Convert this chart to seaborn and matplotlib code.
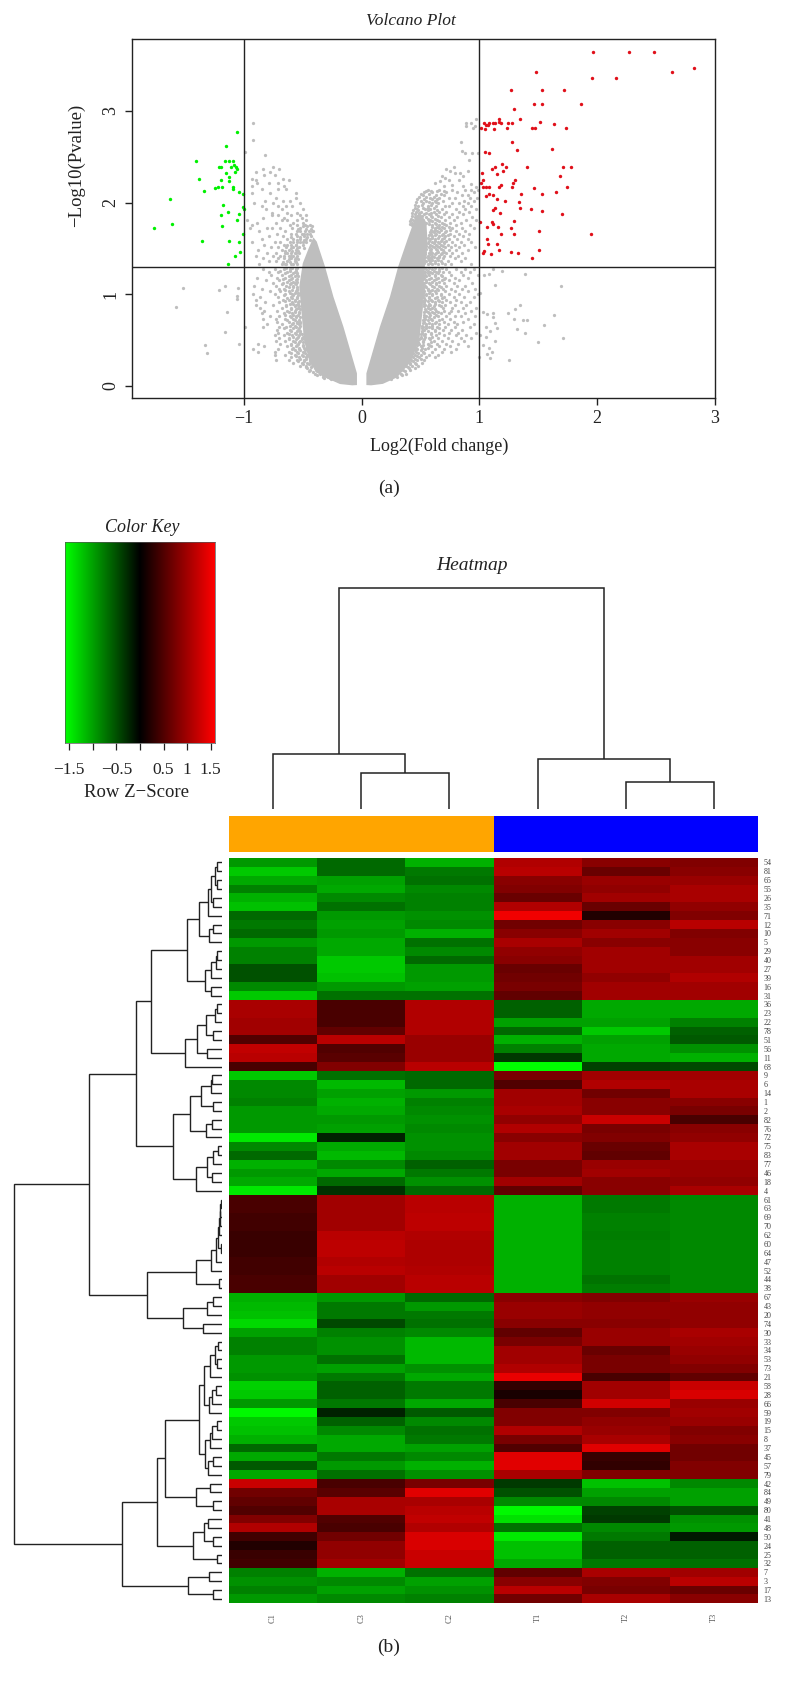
import numpy as np
import pandas as pd
import matplotlib
matplotlib.use("Agg")
import matplotlib.pyplot as plt
from matplotlib.colors import LinearSegmentedColormap, ListedColormap
import seaborn as sns

sns.set_theme(style="white")
plt.rcParams['font.family'] = ['Liberation Serif', 'DejaVu Serif']

W, H = 786, 1691

# ---------- volcano data ----------
green_pts = [(-1.06,2.774),(-1.15,2.62),(-1.41,2.454),(-1.158,2.45),(-1.124,2.45),(-1.096,2.457),(-1.215,2.388),(-1.192,2.388),
(-1.113,2.388),(-1.088,2.41),(-1.07,2.388),(-1.062,2.363),(-1.153,2.326),(-1.073,2.33),(-1.13,2.279),(-1.379,2.257),(-1.192,2.25),
(-1.124,2.232),(-1.243,2.162),(-1.223,2.17),(-1.189,2.17),(-1.096,2.151),(-1.09,2.166),(-1.336,2.126),(-1.042,2.111),(-1.011,2.097),
(-1.63,2.039),(-1.181,1.977),(-1.006,1.948),(-1.0,1.929),(-1.136,1.893),(-1.192,1.864),(-1.045,1.871),(-1.607,1.766),(-1.059,1.809),
(-1.186,1.74),(-1.766,1.718),(-1.011,1.66),(-1.353,1.584),(-1.13,1.58),(-1.042,1.569),(-1.037,1.46),(-1.073,1.416),(-1.138,1.329)]

red_pts = [(1.966,3.644),(2.272,3.644),(2.484,3.644),(1.482,3.426),(2.632,3.426),(2.822,3.473),(1.958,3.356),(2.161,3.356),(1.272,3.229),
(1.535,3.229),(1.722,3.229),(1.462,3.08),(1.535,3.08),(1.861,3.08),(1.292,3.018),(1.346,2.912),(1.17,2.912),(1.513,2.876),(1.037,2.865),
(1.085,2.872),(1.113,2.872),(1.13,2.872),(1.164,2.876),(1.184,2.872),(1.241,2.872),(1.28,2.872),(1.637,2.858),(1.057,2.85),(1.071,2.847),
(1.011,2.81),(1.045,2.807),(1.122,2.799),(1.232,2.81),(1.445,2.81),(1.47,2.81),(1.737,2.818),(1.28,2.665),(1.32,2.577),(1.612,2.585),
(1.045,2.556),(1.079,2.537),(1.193,2.424),(1.136,2.388),(1.224,2.388),(1.402,2.388),(1.708,2.388),(1.776,2.388),(1.105,2.363),(1.198,2.341),
(1.02,2.326),(1.15,2.312),(1.688,2.29),(1.028,2.25),(1.303,2.25),(1.014,2.21),(1.283,2.21),(1.181,2.191),(1.167,2.173),(1.028,2.173),
(1.057,2.173),(1.082,2.173),(1.278,2.173),(1.742,2.173),(1.459,2.155),(1.654,2.111),(1.357,2.097),(1.535,2.097),(1.082,2.097),(1.057,2.068),
(1.119,2.079),(1.15,2.042),(1.218,2.017),(1.334,2.002),(1.13,1.944),(1.346,1.937),(1.439,1.929),(1.116,1.915),(1.535,1.904),(1.178,1.882),
(1.7,1.875),(1.292,1.798),(1.006,1.787),(1.11,1.787),(1.113,1.769),(1.068,1.729),(1.159,1.729),(1.269,1.722),(1.507,1.693),(1.187,1.653),
(1.292,1.653),(1.943,1.653),(1.068,1.602),(1.074,1.547),(1.147,1.543),(1.17,1.478),(1.507,1.482),(1.04,1.467),(1.034,1.452),(1.269,1.46),
(1.326,1.449),(1.102,1.434),(1.448,1.398)]

gray_isolated = [(-1.52,1.07),(-1.58,0.86),(-1.21,1.05),(-1.16,1.09),(-1.05,1.07),(-1.06,0.98),(-1.06,0.95),(-1.14,0.81),(-1.16,0.59),
(-1.33,0.44),(-1.31,0.36),(-1.04,0.45),(-0.99,0.64),(-0.92,2.87),(-0.92,2.68),(-0.99,2.55),(-0.82,2.52),
(1.119,1.27),(1.19,1.256),(1.388,1.22),(1.085,1.22),(1.042,1.209),(1.133,1.099),(1.691,1.088),(1.006,1.008),(1.346,.881),(1.303,.834),
(1.244,.79),(1.637,.772),(1.028,.808),(1.068,.783),(1.113,.79),(1.113,.754),(1.295,.728),(1.374,.717),(1.408,.717),(1.133,.688),(1.552,.666),
(1.057,.644),(1.147,.626),(1.091,.597),(1.323,.615),(1.388,.572),(1.006,.553),(1.057,.535),(1.708,.517),(1.501,.473),(1.133,.491),(1.085,.408),
(1.034,.444),(1.105,.364),(1.068,.342),(1.252,.28),(1.091,.306),(.992,.317),
(0.888,2.87),(0.93,2.87),(0.975,2.91),(0.888,2.83),(0.945,2.81),(0.965,2.84),(0.84,2.66),(0.85,2.56),(0.88,2.54),(0.94,2.54),(0.985,2.54),
(0.91,2.46),(0.78,2.39),(0.72,2.37),(0.835,2.32),(0.905,2.34),(0.75,2.34),(0.795,2.32),(0.86,2.29),(0.68,2.29),(0.71,2.27),(0.62,2.21),
(0.665,2.23),(0.745,2.25),(0.83,2.25),(0.93,2.2),(0.97,2.17),(0.77,2.19),(0.70,2.18),(0.86,2.18)]

gray_right_levels = {
2.14:[.56,.66,.77,.88,.93,.99],2.11:[.53,.60,.72,.81,.95],2.08:[.52,.63,.70,.85,.90],2.05:[.58,.66,.74,.79,.92,.98],
2.02:[.50,.55,.62,.69,.87,.95],1.99:[.52,.60,.65,.77,.83,.90],1.96:[.48,.56,.63,.71,.74,.86,.93],1.93:[.47,.54,.58,.68,.80,.88,.97],
1.90:[.46,.50,.61,.66,.72,.83,.91],1.87:[.45,.53,.57,.63,.70,.77,.86],1.84:[.45,.49,.55,.60,.67,.74,.81,.94],
1.81:[.44,.48,.52,.58,.64,.71,.78,.89,.97],1.78:[.43,.47,.55,.62,.68,.75,.84],1.75:[.43,.50,.53,.60,.66,.72,.80,.92],
1.72:[.62,.66,.70,.77,.85,.95],1.69:[.60,.64,.72,.80,.88],1.66:[.59,.63,.69,.75,.83,.91],1.63:[.60,.66,.71,.78,.86],
1.60:[.58,.62,.68,.74,.81,.90],1.57:[.60,.65,.70,.77,.84,.93],1.54:[.58,.63,.67,.73,.79,.87],1.51:[.57,.61,.66,.71,.76,.83,.96],
1.48:[.58,.64,.69,.74,.80,.90],1.45:[.57,.60,.63,.68,.72,.77,.85],1.42:[.56,.60,.66,.70,.75,.82],1.39:[.56,.59,.64,.69,.79,.88],
1.36:[.55,.58,.62,.67,.73,.84],1.33:[.56,.60,.65,.71,.76,.93],1.27:[.55,.60,.66,.72,.80,.88,.95],1.24:[.54,.58,.63,.69,.74,.84,.92],
1.21:[.54,.57,.62,.67,.76,.86,.99],1.18:[.53,.59,.65,.71,.79,.90],1.15:[.55,.61,.68,.74,.83],1.12:[.53,.57,.63,.70,.78,.94],
1.09:[.54,.60,.66,.72,.81,.88],1.06:[.52,.56,.64,.69,.76,.85,.96],1.03:[.53,.58,.62,.71,.79,.90],1.00:[.55,.60,.67,.74,.83,.99],
.97:[.52,.57,.64,.70,.78,.87,.95],.94:[.54,.59,.65,.72,.80],.91:[.53,.62,.68,.75,.84,.92],.88:[.54,.58,.66,.71,.79,.89],
.85:[.56,.60,.69,.77,.86,.97],.82:[.55,.63,.70,.76,.82,.93],.79:[.57,.61,.67,.74,.88],.76:[.55,.65,.72,.79,.84,.96],
.73:[.54,.59,.68,.75,.90],.70:[.53,.63,.70,.78,.86],.67:[.55,.60,.66,.73,.81,.95],.64:[.52,.57,.64,.71,.79,.92],
.61:[.53,.62,.69,.76,.85],.58:[.51,.59,.66,.74,.82,.97],.55:[.53,.63,.70,.80,.89],.52:[.50,.57,.65,.73,.84,.93],
.49:[.52,.61,.68,.77,.87],.46:[.49,.56,.64,.72,.82],.43:[.50,.59,.66,.75,.90],.40:[.47,.54,.62,.70,.80],.37:[.46,.52,.60,.68,.76],
.34:[.45,.50,.57,.65],.31:[.44,.49,.55,.62],.28:[.42,.47,.53],.25:[.41,.45,.51],.22:[.38,.43,.48],.19:[.34,.40,.45],.16:[.31,.37],
.13:[.27,.33,.38],.10:[.24,.30],.07:[.2,.25]}

gray_right_extra = {
2.125:[.55,.59,.64,.70],2.095:[.50,.57,.67],2.065:[.49,.55,.61],2.035:[.47,.53,.60,.64],2.005:[.46,.57,.63],1.975:[.45,.51,.59],
1.945:[.45,.52,.56,.61],1.915:[.44,.48,.56,.64],1.885:[.43,.49,.55,.59],1.855:[.43,.47,.51,.59,.65],1.825:[.42,.46,.50,.56,.62],
1.795:[.41,.45,.52,.57,.60,.66],1.765:[.41,.57,.63,.70],1.735:[.60,.64,.68,.74],1.705:[.59,.62,.67,.75],1.675:[.58,.61,.66,.71],
1.645:[.57,.62,.68,.73],1.615:[.56,.60,.65,.70],1.585:[.57,.62,.67,.72],1.555:[.56,.61,.66,.70],1.525:[.55,.60,.64,.69],
1.495:[.55,.59,.63,.67],1.465:[.54,.59,.65,.70],1.435:[.54,.58,.62,.67],1.405:[.54,.57,.61,.66],1.375:[.53,.57,.60,.65],
1.345:[.53,.58,.62,.68],1.285:[.53,.57,.62,.68],1.255:[.52,.56,.61,.66],1.225:[.52,.56,.60,.65],1.195:[.52,.55,.62,.68],
1.165:[.52,.57,.63,.70],1.135:[.51,.55,.60,.66],1.105:[.52,.58,.63],1.075:[.52,.55,.61,.67],1.045:[.51,.56,.60,.65],
1.015:[.52,.57,.63],.985:[.52,.55,.60,.67],.955:[.53,.57,.62,.68],.925:[.52,.56,.60,.66],.895:[.53,.57,.62],
.865:[.53,.56,.61,.67],.835:[.54,.58,.62],.805:[.53,.56,.60,.65],.775:[.53,.58,.63],.745:[.53,.57,.61],.715:[.52,.56,.60,.66],
.685:[.52,.57,.62],.655:[.51,.55,.60],.625:[.51,.55,.60,.66],.595:[.51,.56,.62],.565:[.50,.54,.59],.535:[.50,.54,.60],
.505:[.49,.53,.58],.475:[.48,.52,.59],.445:[.47,.52,.57],.415:[.46,.51,.56],.385:[.45,.50],.355:[.44,.48,.53],.325:[.43,.47],
.295:[.41,.45,.50],.265:[.39,.44],.235:[.36,.41,.46],.205:[.33,.39],.175:[.30,.35,.41],.145:[.27,.32],.115:[.23,.28,.34]}

gray_left_levels = {
2.39:[-.75],2.37:[-.84,-.70],2.33:[-.90,-.78],2.30:[-.74,-.83],2.26:[-.93,-.67],2.25:[-.90,-.62],2.21:[-.89,-.79,-.71],2.18:[-.66,-.93],
2.15:[-.64,-.71,-.85],2.10:[-.56,-.93,-.78],2.05:[-.56,-.73],2.02:[-.67,-.61,-.82],2.0:[-.52,-.75,-.91],1.96:[-.85,-.64,-.59,-.71],
1.93:[-.81,-.50,-.68],1.89:[-.55,-.63,-.76],1.86:[-.76,-.71,-.52,-.60,-.47],1.83:[-.51,-.84,-.66],1.81:[-.68,-.63,-.55,-.47,-.97],
1.78:[-.89,-.73,-.58,-.50],1.75:[-.93,-.55,-.61,-.48,-.44],1.72:[-.80,-.76,-.69,-.59,-.95,-.52],1.69:[-.65,-.55,-.48,-.42,-.87],
1.66:[-.72,-.60,-.51,-.46],1.63:[-.79,-.67,-.55,-.49,-.43],1.60:[-.85,-.63,-.58,-.52,-.47],1.57:[-.74,-.69,-.61,-.55,-.50,-.93],
1.54:[-.83,-.66,-.60,-.56],1.51:[-.77,-.71,-.64,-.58,-.53],1.48:[-.88,-.68,-.62,-.56],1.45:[-.80,-.73,-.65,-.60,-.56],
1.42:[-.90,-.75,-.69,-.62,-.58],1.39:[-.84,-.71,-.66,-.60,-.56],1.36:[-.79,-.73,-.63,-.57],1.33:[-.87,-.68,-.64,-.60],
1.27:[-.84,-.74,-.66,-.61,-.56],1.24:[-.79,-.71,-.63,-.57],1.21:[-.77,-.68,-.60,-.55],1.18:[-.89,-.72,-.65,-.59],1.15:[-.81,-.70,-.62,-.56],
1.12:[-.75,-.67,-.60,-.57],1.09:[-.91,-.73,-.64,-.58],1.06:[-.85,-.70,-.66,-.55],1.03:[-.78,-.69,-.62,-.56],1.00:[-.92,-.74,-.65,-.59],
.97:[-.86,-.71,-.60,-.55],.94:[-.90,-.67,-.62,-.57],.91:[-.82,-.70,-.59,-.54],.88:[-.90,-.75,-.64,-.56],.85:[-.86,-.68,-.60,-.54],
.82:[-.83,-.72,-.63,-.57],.79:[-.85,-.66,-.59,-.53],.76:[-.78,-.70,-.61,-.56],.73:[-.84,-.73,-.65,-.58],.70:[-.72,-.62,-.55,-.52],
.67:[-.80,-.68,-.59,-.53],.64:[-.84,-.70,-.64,-.56],.61:[-.72,-.61,-.54],.58:[-.71,-.63,-.57,-.52],.55:[-.74,-.66,-.59,-.53],
.52:[-.70,-.62,-.55,-.51],.49:[-.73,-.65,-.58,-.52],.46:[-.88,-.69,-.60,-.54],.43:[-.83,-.63,-.56,-.50],.40:[-.92,-.71,-.59,-.53,-.48],
.37:[-.88,-.74,-.62,-.55,-.50],.34:[-.74,-.65,-.57,-.51,-.46],.31:[-.60,-.53,-.47],.28:[-.73,-.62,-.55,-.49,-.44],.25:[-.58,-.51,-.46],
.22:[-.52,-.47,-.42],.19:[-.46,-.40],.16:[-.45,-.38,-.36],.13:[-.40,-.35],.10:[-.33,-.29],.07:[-.26,-.22]}

gray_left_extra = {
1.745:[-.46,-.50,-.42],1.715:[-.54,-.47,-.43],1.685:[-.52,-.45,-.41],1.655:[-.56,-.49,-.44],1.625:[-.60,-.52,-.46],1.595:[-.55,-.49,-.44],
1.565:[-.58,-.52,-.47],1.535:[-.63,-.56,-.50],1.505:[-.60,-.55,-.49],1.475:[-.65,-.59,-.54],1.445:[-.63,-.57,-.53],1.415:[-.66,-.60,-.55],
1.385:[-.62,-.57,-.54],1.355:[-.67,-.61,-.56],1.325:[-.65,-.58,-.55],1.285:[-.64,-.59,-.55],1.255:[-.69,-.61,-.56],1.225:[-.65,-.58,-.55],
1.195:[-.62,-.57,-.54],1.165:[-.67,-.60,-.55],1.135:[-.63,-.58,-.55],1.105:[-.68,-.61,-.56],1.075:[-.62,-.58,-.55],1.045:[-.65,-.59,-.55],
1.015:[-.61,-.57,-.54],.985:[-.66,-.58,-.54],.955:[-.63,-.59,-.55],.925:[-.65,-.57,-.53],.895:[-.61,-.58,-.54],.865:[-.64,-.57,-.53],
.835:[-.60,-.56,-.52],.805:[-.62,-.57,-.53],.775:[-.65,-.58,-.54],.745:[-.60,-.56,-.52],.715:[-.63,-.57,-.53],.685:[-.58,-.55,-.52],
.655:[-.61,-.57,-.52],.625:[-.66,-.58,-.53],.595:[-.60,-.55,-.52],.565:[-.62,-.56,-.51],.535:[-.58,-.54,-.50],.505:[-.62,-.56,-.51],
.475:[-.57,-.53,-.50],.445:[-.60,-.55,-.50],.415:[-.58,-.53,-.49],.385:[-.57,-.52,-.48],.355:[-.60,-.54,-.48],.325:[-.56,-.50,-.46],
.295:[-.52,-.47,-.43],.265:[-.54,-.49,-.44],.235:[-.50,-.45,-.41],.205:[-.47,-.43,-.38],.175:[-.44,-.39,-.35],.145:[-.41,-.36,-.32],
.115:[-.38,-.33,-.28],.085:[-.32,-.27,-.23]}

left_core_x = [-.04,-.04,-.155,-.24,-.311,-.381,-.41,-.45,-.50,-.53,-.51,-.49,-.44,-.325,-.184,-.08]
left_core_y = [.007,.135,.644,.972,1.30,1.573,1.62,1.50,1.336,1.081,.79,.499,.244,.098,.018,.004]
right_core_x = [.04,.04,.155,.24,.31,.39,.44,.49,.55,.56,.54,.52,.52,.49,.41,.30,.18,.08]
right_core_y = [.007,.135,.644,.97,1.30,1.60,1.78,1.90,1.78,1.55,1.35,1.10,.85,.50,.25,.09,.02,.004]

volcano_xticks = [-1, 0, 1, 2, 3]
volcano_xticklabels = ['\u22121', '0', '1', '2', '3']
volcano_yticks = [0, 1, 2, 3]
fc_cut = 1.0
p_cut = 1.301

# ---------- heatmap data ----------
row_labels = [54,81,65,55,26,35,71,12,10,5,29,40,27,39,16,31,36,23,22,78,51,56,11,68,9,6,14,1,2,82,76,72,75,83,77,46,18,4,
61,63,69,70,62,60,64,47,52,44,38,67,43,20,74,30,33,34,53,73,21,58,28,66,59,19,15,8,37,45,57,79,42,84,49,80,41,48,50,24,25,32,7,3,17,13]
col_labels = ['C1', 'C3', 'C2', 'T1', 'T2', 'T3']
col_groups = [0, 0, 0, 1, 1, 1]
z_rows = [
[-.95,-.65,-1.1,1.1,.85,.8],[-1.25,-.65,-.75,1.15,.65,.85],[-1.05,-1.0,-.7,.85,.95,.95],[-.8,-1.05,-.85,.8,.9,1.05],
[-1.1,-.85,-.8,.65,1.0,1.05],[-1.2,-.7,-.8,1.1,.65,.9],[-.65,-.95,-.9,1.5,.2,.8],[-.75,-1.0,-.85,.7,.85,1.15],
[-.65,-.95,-1.1,.85,1.0,.8],[-.95,-1.05,-.7,1.05,.85,.85],[-.8,-1.05,-.85,.9,1.0,.85],[-.8,-1.25,-.65,.85,1.0,1.0],
[-.5,-1.25,-.95,.65,1.0,1.0],[-.5,-1.2,-.95,.7,.9,1.1],[-.85,-.95,-1.0,.75,1.0,1.0],[-1.25,-.7,-.7,.6,1.0,1.0],
[1.05,.45,1.1,-.6,-1.05,-1.05],[1.05,.45,1.1,-.6,-1.05,-1.05],[1.0,.45,1.1,-1.0,-1.0,-.8],[1.0,.6,1.1,-.65,-1.25,-.6],
[.5,1.15,.95,-1.1,-1.0,-.55],[1.2,.5,.95,-.8,-1.05,-.9],[1.15,.55,.95,-.35,-1.05,-1.1],[.45,.8,1.15,-1.59,-.4,-.45],
[-1.25,-.7,-.65,.75,1.0,1.0],[-.85,-1.15,-.65,.5,1.1,1.05],[-.85,-1.0,-.95,1.0,.7,1.05],[-.8,-1.1,-.8,1.0,.85,.85],
[-.95,-1.05,-.85,1.05,.85,.75],[-.95,-.95,-.9,.9,1.25,.45],[-.95,-1.0,-.85,1.1,.75,.85],[-1.45,-.2,-.9,.85,.8,.9],
[-.85,-1.05,-.9,1.0,.65,1.05],[-.65,-1.15,-.85,1.0,.6,1.05],[-1.1,-.85,-.6,.75,.95,.95],[-.95,-1.05,-.75,.75,1.0,.95],
[-1.05,-.65,-.9,1.0,.85,.9],[-1.45,-.3,-.65,.6,.85,1.05],
[.45,1.0,1.15,-1.1,-.75,-.85],[.45,1.0,1.15,-1.1,-.75,-.85],[.4,1.0,1.18,-1.1,-.8,-.85],[.4,1.0,1.18,-1.1,-.8,-.85],
[.35,1.15,1.1,-1.1,-.78,-.85],[.35,1.18,1.08,-1.1,-.8,-.85],[.35,1.18,1.08,-1.1,-.8,-.85],[.4,1.1,1.08,-1.1,-.8,-.85],
[.4,1.15,1.1,-1.1,-.8,-.85],[.45,1.0,1.15,-1.1,-.72,-.85],[.45,1.0,1.15,-1.1,-.78,-.85],
[-1.1,-.95,-.65,.85,.8,.95],[-1.15,-.75,-.95,.95,.9,.9],[-1.2,-.75,-.75,.95,.9,.9],[-1.35,-.45,-.7,.85,.85,.9],
[-1.0,-.8,-.85,.6,.95,1.05],[-.8,-.9,-1.15,.75,.95,1.0],[-.8,-.9,-1.15,1.0,.65,.95],[-.95,-.7,-1.15,1.0,.75,.9],
[-.95,-1.0,-.9,1.1,.75,.8],[-.9,-.75,-1.05,1.45,.45,.6],[-1.3,-.6,-.75,.3,1.0,1.25],[-1.25,-.6,-.75,.15,1.0,1.35],
[-.95,-.75,-1.05,.45,1.3,.95],[-1.55,-.2,-.55,.8,.8,1.0],[-1.25,-.6,-.85,.8,.9,.95],[-1.2,-.85,-.7,1.1,.95,.8],
[-1.1,-1.05,-.75,.75,1.05,.85],[-.65,-1.05,-1.0,.5,1.4,.7],[-1.05,-.75,-.85,1.4,.35,.7],[-.55,-.95,-1.1,1.4,.3,.8],
[-1.05,-.7,-.9,1.05,.8,.8],
[1.25,.45,.75,-.35,-1.2,-.85],[.7,.55,1.4,-.5,-1.0,-1.0],[.6,1.05,1.05,-.85,-.85,-1.0],[.5,1.05,1.15,-1.55,-.4,-.5],
[.8,.5,1.2,-1.4,-.35,-.9],[1.1,.45,1.1,-.7,-.85,-.95],[.4,.7,1.35,-1.45,-.75,-.15],[.2,.9,1.35,-1.2,-.6,-.6],
[.35,.9,1.25,-1.2,-.6,-.6],[.4,1.0,1.25,-1.05,-.75,-.7],
[-.8,-1.1,-.7,.6,1.05,1.0],[-.9,-.85,-1.0,.85,.8,1.15],[-.8,-1.0,-.9,1.15,.75,.65],[-.95,-.85,-.8,.7,1.05,.85]]

z_limit = 1.59
key_ticks = [-1.5, -1, -.5, 0, .5, 1, 1.5]
key_ticklabels = ['\u22121.5', '', '\u22120.5', '', '0.5', '1', '1.5']

# dendrogram merges: (height, left, right); a leaf is a 1-based position
col_tree = (221, (54.8, 1, (35.6, 2, 3)), (49.6, 4, (26.6, 5, 6)))

g1a1 = (41, (33, (20, (15, 1, 2), (13, 3, 4)), (25, 5, 6)), 7)
g1a2 = (39, (27, 8, 9), 10)
g1b = (49, (31, (18, (13, 11, 12), 13), 14), (33, 15, 16))
g1 = (105, (68, g1a1, g1a2), g1b)
g2 = (109, (75, (47, (20, (13, 17, 18), 19), (27, 20, 21)), (45, 22, 23)), 24)
g3 = (96, (63, (32, (28, 25, 26), 27), (27, 28, 29)), (46, (29, 30, 31), 32))
g4 = (78, (45, (25, (10, 33, 34), 35), (28, 36, 37)), 38)
a1 = (258, (211, g1, g2), (147, g3, g4))
chain = (10, (8, (6, (4, (2, 39, 40), 41), 42), 43), (3, 44, 45))
g5 = (78, (32, (18, chain, 46), 47), (7, 48, 49))
g6 = (117, (43, (27, 50, 51), 52), (55, 53, 54))
a2 = (225, g5, g6)
p1 = (35, (19, (11, 55, 56), (13, 57, 58)), 59)
q1 = (39, (28, (17, 60, 61), 62), 63)
s1 = (35, (28, (14, 64, 65), 66), 67)
t1 = (40, (27, 68, 69), 70)
b1a1 = (69, (54, p1, q1), (49, s1, t1))
b1a2 = (78, (35, 71, 72), (27, 73, 74))
b1b = (87, (53, (40, 75, 76), (25, 77, 78)), (13, 79, 80))
b1 = (193, (169, b1a1, b1a2), b1b)
b2 = (100, (39, 81, 82), (27, 83, 84))
row_tree = (623, (399, a1, a2), (300, b1, b2))

# ---------- helpers ----------
INK = '#222222'
fig = plt.figure(figsize=(W / 100, H / 100), dpi=100, facecolor='white')

def axpx(l, t, r, b):
    return fig.add_axes([l / W, 1 - b / H, (r - l) / W, (b - t) / H])

def textpx(x, y, s, **kw):
    kw.setdefault('ha', 'center')
    kw.setdefault('va', 'center')
    kw.setdefault('color', INK)
    fig.text(x / W, 1 - y / H, s, **kw)

def levels_to_frame(levels):
    return pd.DataFrame([(x, y) for y, xs in levels.items() for x in xs], columns=['x', 'y'])

def draw_tree(ax, node, horizontal, lw, color):
    """Returns (position, height) of the node and draws its brackets."""
    if not isinstance(node, tuple):
        return node - 0.5, 0
    h, a, b = node
    pa, ha = draw_tree(ax, a, horizontal, lw, color)
    pb, hb = draw_tree(ax, b, horizontal, lw, color)
    p = [pa, pa, pb, pb]
    v = [ha, h, h, hb]
    if horizontal:
        ax.plot(v, p, color=color, lw=lw, solid_joinstyle='miter', solid_capstyle='butt')
    else:
        ax.plot(p, v, color=color, lw=lw, solid_joinstyle='miter', solid_capstyle='butt')
    return (pa + pb) / 2, h

# ---------- volcano ----------
ax = axpx(132, 39, 715, 397.7)
ax.set_xlim(-1.95, 3.0)
ax.set_ylim(-0.131, 3.785)
ax.fill(left_core_x, left_core_y, color='#BEBEBE', lw=0, zorder=1)
ax.fill(right_core_x, right_core_y, color='#BEBEBE', lw=0, zorder=1)
gray_df = pd.concat([levels_to_frame(gray_right_levels), levels_to_frame(gray_right_extra),
                     levels_to_frame(gray_left_levels), levels_to_frame(gray_left_extra),
                     pd.DataFrame(gray_isolated, columns=['x', 'y'])])
green_df = pd.DataFrame(green_pts, columns=['x', 'y'])
red_df = pd.DataFrame(red_pts, columns=['x', 'y'])
sns.scatterplot(data=gray_df, x='x', y='y', ax=ax, color='#BEBEBE', s=5.5, linewidth=0, zorder=2)
sns.scatterplot(data=green_df, x='x', y='y', ax=ax, color='#00F000', s=6, linewidth=0, zorder=3)
sns.scatterplot(data=red_df, x='x', y='y', ax=ax, color='#E0101A', s=6, linewidth=0, zorder=3)
for v in (-fc_cut, fc_cut):
    ax.axvline(v, color=INK, lw=1.0, zorder=4)
ax.axhline(p_cut, color=INK, lw=1.0, zorder=4)
ax.set_xlabel('')
ax.set_ylabel('')
for s in ax.spines.values():
    s.set_linewidth(1.0)
    s.set_color(INK)
ax.set_xticks(volcano_xticks)
ax.set_xticklabels(volcano_xticklabels)
ax.set_yticks(volcano_yticks)
ax.set_yticklabels([str(v) for v in volcano_yticks], rotation=90, va='center')
ax.tick_params(axis='x', length=5, width=1.0, color=INK, pad=4, labelsize=13, labelcolor=INK, bottom=True)
ax.tick_params(axis='y', length=5, width=1.0, color=INK, pad=4, labelsize=13, labelcolor=INK, left=True)
textpx(411, 21, 'Volcano Plot', fontsize=12.5, style='italic')
textpx(439, 446, 'Log2(Fold change)', fontsize=13)
textpx(76, 165, '\u2212Log10(Pvalue)', fontsize=13.5, rotation=90)
textpx(389, 488, '(a)', fontsize=14)

# ---------- colour key ----------
rg = LinearSegmentedColormap.from_list('gbr', ['#00FF00', '#000000', '#FF0000'])
ax = axpx(65, 542.3, 215, 743.3)
ax.imshow(np.linspace(-z_limit, z_limit, 256)[None, :], cmap=rg, vmin=-z_limit, vmax=z_limit,
          aspect='auto', extent=[-z_limit, z_limit, 0, 1])
ax.set_yticks([])
ax.set_xticks(key_ticks)
ax.set_xticklabels(key_ticklabels)
ax.tick_params(axis='x', length=5, width=0.9, color=INK, pad=8.4, labelsize=12.5, labelcolor=INK, bottom=True)
for s in ax.spines.values():
    s.set_linewidth(0.5)
    s.set_color('#555555')
textpx(142, 527, 'Color Key', fontsize=13, style='italic')
textpx(137, 792, 'Row Z\u2212Score', fontsize=13.5)

# ---------- column dendrogram ----------
HL, HR, HT, HB = 229, 758, 858, 1603.3
ax = axpx(HL, 580, HR, 808.6)
ax.set_xlim(0, 6)
ax.set_ylim(0, 228.6)
draw_tree(ax, col_tree, False, 1.1, INK)
ax.axis('off')
textpx(472, 565, 'Heatmap', fontsize=14, style='italic')

# ---------- colour strip ----------
ax = axpx(HL, 816, HR, 851.5)
sns.heatmap([col_groups], ax=ax, cmap=ListedColormap(['#FFA500', '#0000FF']), cbar=False,
            xticklabels=False, yticklabels=False, vmin=0, vmax=1)

# ---------- row dendrogram ----------
ax = axpx(0, HT, 221.7, HB)
ax.set_xlim(665, 0)
ax.set_ylim(84, 0)
draw_tree(ax, row_tree, True, 1.0, INK)
ax.axis('off')

# ---------- heatmap ----------
ax = axpx(HL, HT, HR, HB)
df = pd.DataFrame(z_rows, index=row_labels, columns=col_labels)
sns.heatmap(df, ax=ax, cmap=rg, vmin=-z_limit, vmax=z_limit, cbar=False, xticklabels=True, yticklabels=True)
ax.yaxis.tick_right()
ax.tick_params(axis='y', length=0, pad=4, labelsize=5.8, labelcolor='#444444', labelrotation=0)
ax.tick_params(axis='x', length=0, pad=7, labelsize=6, labelcolor='#555555', labelrotation=90)
ax.set_xlabel('')
ax.set_ylabel('')
textpx(389, 1647, '(b)', fontsize=14)

fig.savefig('out.png', dpi=100, facecolor='white')
